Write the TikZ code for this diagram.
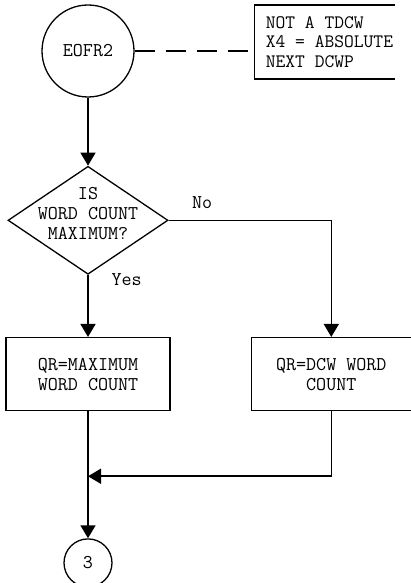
\documentclass[tikz,border=0pt]{standalone}
\usepackage{tikz}
\usetikzlibrary{shapes.geometric, arrows.meta, positioning}

\tikzstyle{term} = [circle, draw=black, line width=1.3pt, minimum size=92pt, inner sep=0pt, font=\fontsize{19.5}{20}\selectfont\ttfamily]
\tikzstyle{note} = [rectangle, minimum height=74pt, inner xsep=11pt, align=left, font=\fontsize{19}{19.5}\selectfont\ttfamily]
\tikzstyle{decision} = [diamond, draw=black, line width=1.3pt, minimum width=160pt, minimum height=108pt, inner sep=0pt]
\tikzstyle{process} = [rectangle, draw=black, line width=1.3pt, minimum height=73pt, align=center, font=\fontsize{19.5}{20}\selectfont\ttfamily]
\tikzstyle{conn} = [circle, draw=black, line width=1.3pt, minimum size=48pt, inner sep=0pt, font=\fontsize{19.5}{20}\selectfont\ttfamily]
\tikzstyle{lbl} = [font=\fontsize{19.5}{20}\selectfont\ttfamily]
\tikzstyle{flow} = [line width=1.6pt]
\tikzstyle{arrow} = [line width=1.6pt, -{Triangle[length=13pt, width=15pt]}]

\begin{document}
\begin{tikzpicture}
    \useasboundingbox (0,0) rectangle (411pt,-583pt);

    % Entrada y nota
    \node (eofr) [term] at (88pt,-51pt) {EOFR2};
    \node (note) [note, right=120pt of eofr, yshift=9pt] {NOT A TDCW\\X4 = ABSOLUTE\\NEXT DCWP};

    % Decision
    \node (test) [decision, below=68pt of eofr,
        label={[lbl, align=center, yshift=7pt]center:IS\\WORD COUNT\\MAXIMUM?}] {};
    \node (yes) [lbl, right=20pt of test.south, yshift=-5pt] {Yes};
    \node (no) [lbl, above right=8pt and 20pt of test.east] {No};

    % Procesos
    \node (maxbox) [process, minimum width=164pt, below=62pt of test] {QR=MAXIMUM\\WORD COUNT};
    \node (dcwbox) [process, minimum width=160pt, right=80pt of maxbox] {QR=DCW WORD\\COUNT};

    % Conector de salida
    \node (out) [conn, below=127pt of maxbox] {3};
    \coordinate [below=65pt of maxbox] (join);

    % --- Flechas ---
    \draw [flow, dash pattern=on 20pt off 11pt] (eofr.east) -- (eofr.east -| note.west);
    \draw [flow] ([xshift=-9pt]note.north east) -- (note.north west) -- (note.south west) -- ([xshift=-9pt]note.south east);

    \draw [arrow] (eofr) -- (test);
    \draw [arrow] (test) -- (maxbox);
    \draw [arrow] (test.east) -| (dcwbox.north);
    \draw [arrow] (dcwbox.south) |- (join);
    \draw [arrow] (maxbox) -- (out);

\end{tikzpicture}
\end{document}
